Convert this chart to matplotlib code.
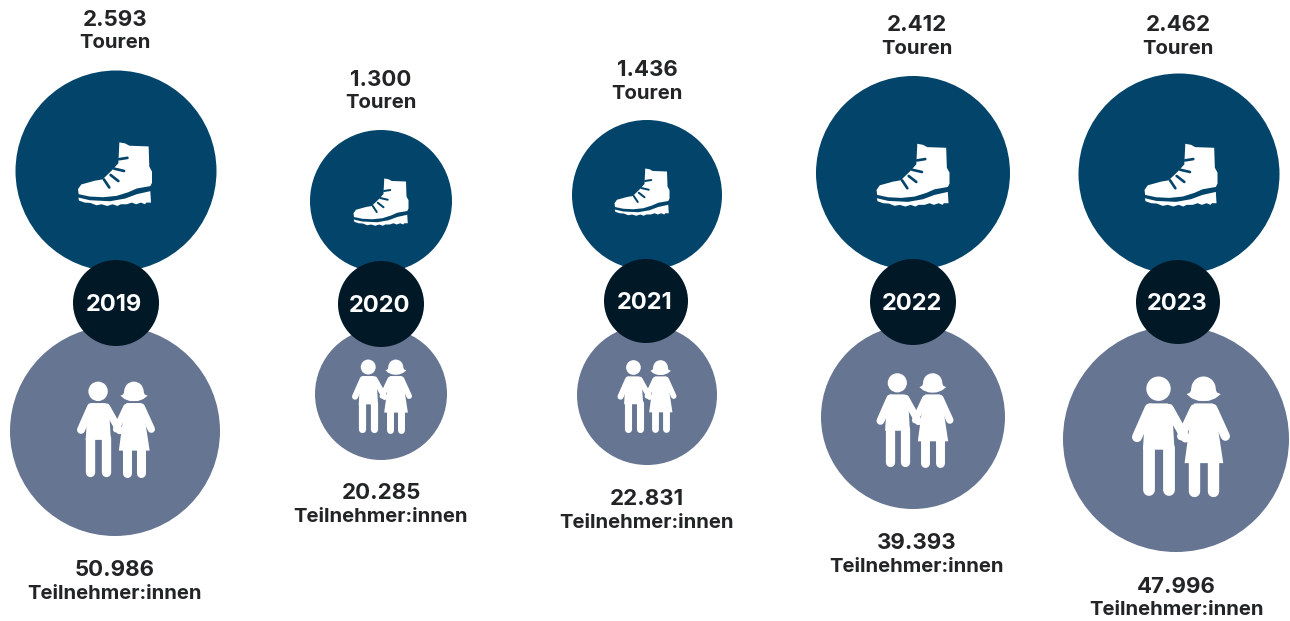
import matplotlib
matplotlib.use("Agg")
import matplotlib.pyplot as plt
from matplotlib.patches import Circle, Polygon

years = ["2019", "2020", "2021", "2022", "2023"]
tours = ["2.593", "1.300", "1.436", "2.412", "2.462"]
participants = ["50.986", "20.285", "22.831", "39.393", "47.996"]
tour_label = "Touren"
participant_label = "Teilnehmer:innen"

# layout (pixels)
W, H, DPI = 1290, 621, 100
top_xy = [(116, 171), (381, 201), (647, 195), (913, 173), (1179, 174)]
top_r = [100.5, 71, 75, 97, 100.5]
bot_xy = [(115, 431), (381, 394), (647, 395), (913, 417), (1176, 439)]
bot_r = [105, 66, 70, 92, 113]
year_xy = [(116, 303), (381, 304), (646, 301), (913, 302), (1178, 302)]
year_r = [43, 43, 42, 43, 42]
year_tx = [114, 380, 645, 912, 1177]
top_text = [(115, 20, 43), (381, 80, 103), (647, 70, 94), (917, 25, 49), (1178, 25, 49)]
bot_text = [(115, 570, 594), (381, 493, 517), (647, 499, 523), (917, 543, 567), (1176, 587, 610)]
boot_width = [74, 55, 55, 73, 73]
boot_c = [(115, 174), (381, 202), (642, 192), (913, 175), (1181, 175)]
people_width = [78, 60, 59, 77, 98]
people_c = [(116, 429), (382, 396), (647, 396), (915, 420), (1181, 436)]

C_TOP, C_BOT, C_YEAR, C_TEXT = "#03446a", "#667592", "#011826", "#222426"
FONT = "Inter"

fig = plt.figure(figsize=(W / DPI, H / DPI), dpi=DPI, facecolor="white")
ax = fig.add_axes([0, 0, 1, 1])
ax.set_xlim(0, W)
ax.set_ylim(H, 0)
ax.axis("off")

# icon shapes in their own units
BOOT = [(358, 68), (375, 71), (388, 78), (445, 80), (447, 140), (455, 155), (455, 188),
        (450, 198), (410, 205), (385, 216), (350, 227), (310, 231), (270, 229), (237, 222),
        (235, 207), (245, 193), (285, 182), (308, 178), (335, 152), (355, 130)]
SOLE = [(236, 232), (270, 240), (330, 243), (375, 235), (410, 222), (450, 213), (452, 247),
        (438, 247), (434, 252), (422, 247), (408, 252), (395, 247), (380, 252), (362, 252),
        (352, 257), (338, 252), (322, 257), (305, 252), (290, 255), (272, 248), (255, 247), (238, 241)]
LACES = [((357, 118), (382, 114)), ((342, 146), (372, 153)), ((332, 165), (355, 183)), ((312, 178), (328, 202))]

P_BOUNDS = (80, 313, 65, 350)
P_CIRCLES = [(143, 95, 29), (250, 95, 29)]
HAIR = [(210, 108), (218, 104), (224, 90), (235, 72), (265, 72), (276, 90), (282, 104), (291, 108),
        (278, 118), (262, 124), (238, 124), (222, 118)]
DRESS = [(228, 130), (272, 130), (280, 160), (297, 272), (205, 272), (220, 160)]
BOY = [(122, 130), (165, 130), (177, 170), (181, 240), (106, 240), (110, 170)]
P_LINES = [((122, 142), (92, 210), 24), ((168, 142), (207, 212), 22), ((228, 142), (197, 208), 20),
           ((272, 142), (302, 208), 22), ((120, 235), (120, 336), 28), ((167, 235), (167, 336), 28),
           ((228, 265), (228, 338), 27), ((272, 265), (272, 338), 27)]


def add_boot(cx, cy, width, bg):
    s = width / 220
    f = lambda p: (cx + (p[0] - 345) * s, cy + (p[1] - 162) * s)
    ax.add_patch(Polygon([f(p) for p in BOOT], closed=True, fc="white", ec="none", zorder=5))
    ax.add_patch(Polygon([f(p) for p in SOLE], closed=True, fc="white", ec="none", zorder=5))
    for a, b in LACES:
        (x0, y0), (x1, y1) = f(a), f(b)
        ax.plot([x0, x1], [y0, y1], color=bg, lw=8 * s * 72 / DPI, solid_capstyle="round", zorder=6)


def add_people(cx, cy, width):
    s = width / 233
    mx, my = (P_BOUNDS[0] + P_BOUNDS[1]) / 2, (P_BOUNDS[2] + P_BOUNDS[3]) / 2
    f = lambda p: (cx + (p[0] - mx) * s, cy + (p[1] - my) * s)
    for x, y, r in P_CIRCLES:
        ax.add_patch(Circle(f((x, y)), r * s, fc="white", ec="none", zorder=5))
    for poly in (HAIR, DRESS, BOY):
        ax.add_patch(Polygon([f(p) for p in poly], closed=True, fc="white", ec="none", zorder=5))
    for a, b, w in P_LINES:
        (x0, y0), (x1, y1) = f(a), f(b)
        ax.plot([x0, x1], [y0, y1], color="white", lw=w * s * 72 / DPI, solid_capstyle="round", zorder=5)


def label(x, y, txt, size, color=C_TEXT, z=8):
    ax.text(x, y, txt, ha="center", va="center", fontsize=size, fontweight="bold",
            family=FONT, color=color, zorder=z)


for i, yr in enumerate(years):
    ax.add_patch(Circle(top_xy[i], top_r[i], fc=C_TOP, ec="none", zorder=1))
    ax.add_patch(Circle(bot_xy[i], bot_r[i], fc=C_BOT, ec="none", zorder=2))
    ax.add_patch(Circle(year_xy[i], year_r[i], fc=C_YEAR, ec="none", zorder=3))
    label(year_tx[i], year_xy[i][1] + 2, yr, 17, "white")
    add_boot(*boot_c[i], boot_width[i], C_TOP)
    add_people(*people_c[i], people_width[i])
    x, y1, y2 = top_text[i]
    label(x, y1, tours[i], 16)
    label(x, y2, tour_label, 14.6)
    x, y1, y2 = bot_text[i]
    label(x, y1, participants[i], 16)
    label(x, y2, participant_label, 14.6)

fig.savefig("out.png", dpi=DPI, facecolor="white")
